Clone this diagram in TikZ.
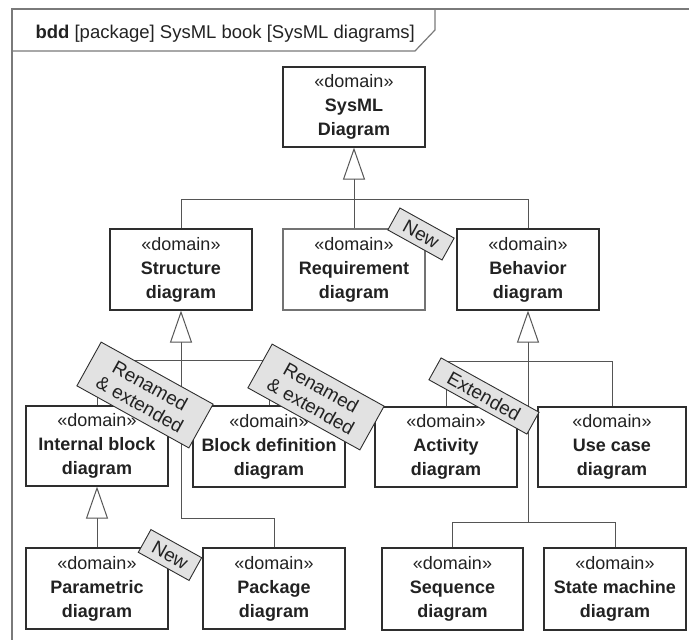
\documentclass[tikz,border=0pt]{standalone}
\usepackage{fontspec}
\setmainfont{Liberation Sans}
\usetikzlibrary{arrows.meta}
\definecolor{frameline}{HTML}{7A7A7A}
\definecolor{boxline}{HTML}{2E2E2E}
\definecolor{connline}{HTML}{555555}
\definecolor{tagfill}{HTML}{E2E2E2}
\definecolor{inktext}{HTML}{222222}
\begin{document}
\begin{tikzpicture}[x=1pt,y=-1pt,
  box/.style={draw=boxline, line width=1.2pt, fill=white, minimum width=142pt,
    minimum height=81pt, inner sep=0pt, align=center, text=inktext,
    font=\fontsize{18}{24}\selectfont},
  conn/.style={draw=connline, line width=1pt},
  gen/.style={conn, -{Triangle[open, length=32pt, width=22pt, fill=white]}},
  tag/.style={draw=boxline, line width=0.9pt, fill=tagfill, rotate=-29,
    inner sep=0pt, align=center, text=inktext, font=\fontsize{19}{21}\selectfont}]
\useasboundingbox (0,0) rectangle (689,640);

% frame with title tab
\draw[frameline, line width=1.2pt] (12,645) -- (12,9) -- (689,9);
\draw[frameline, line width=1.2pt] (12,51) -- (415,51) -- (435,30) -- (435,9);
\node[anchor=base west, font=\fontsize{18.5}{22}\selectfont, text=inktext] (title) at (32,38)
  {\textbf{bdd} [package] SysML book [SysML diagrams]};

% junction points of the generalization trees
\coordinate (j1) at (354,199);
\coordinate (j2) at (181,360);
\coordinate (j3) at (181,518);
\coordinate (j4) at (528,361);
\coordinate (j5) at (528,522);

% blocks
\node[box, minimum height=80pt] (sysml) at (354,107) {«domain»\\\textbf{SysML}\\\textbf{Diagram}};
\node[box] (struct) at (181,269.5) {«domain»\\\textbf{Structure}\\\textbf{diagram}};
\node[box, draw=black!55] (req) at (354,269.5) {«domain»\\\textbf{Requirement}\\\textbf{diagram}};
\node[box] (behav) at (528,269.5) {«domain»\\\textbf{Behavior}\\\textbf{diagram}};
\node[box, minimum height=80pt] (ibd) at (97,446) {«domain»\\\textbf{Internal block}\\\textbf{diagram}};
\node[box, minimum width=152pt] (bdd) at (269,446.5) {«domain»\\\textbf{Block definition}\\\textbf{diagram}};
\node[box, minimum height=80pt] (act) at (446,447) {«domain»\\\textbf{Activity}\\\textbf{diagram}};
\node[box, minimum width=148pt, minimum height=80pt] (uc) at (612,447) {«domain»\\\textbf{Use case}\\\textbf{diagram}};
\node[box] (param) at (97,588.5) {«domain»\\\textbf{Parametric}\\\textbf{diagram}};
\node[box] (pkg) at (274,588.5) {«domain»\\\textbf{Package}\\\textbf{diagram}};
\node[box, minimum width=141pt, minimum height=82pt] (seq) at (452.5,589) {«domain»\\\textbf{Sequence}\\\textbf{diagram}};
\node[box, minimum height=82pt] (sm) at (615,589) {«domain»\\\textbf{State machine}\\\textbf{diagram}};

% generalizations
\draw[conn] (struct.north) |- (behav.north |- j1) -- (behav.north);
\draw[conn] (req.north) -- (j1);
\draw[gen] (j1) -- (sysml.south);

\draw[conn] (ibd.north) |- (bdd.north |- j2) -- (bdd.north);
\draw[gen] (j2) -- (struct.south);
\draw[conn] (j2) -- (j3) -| (pkg.north);

\draw[conn] (act.north) |- (uc.north |- j4) -- (uc.north);
\draw[gen] (j4) -- (behav.south);
\draw[conn] (j4) -- (j5);
\draw[conn] (seq.north) |- (sm.north |- j5) -- (sm.north);

\draw[gen] (param.north) -- (ibd.south);

% change tags
\node[tag, minimum width=62pt, minimum height=25pt] (newreq) at (421,234) {New};
\node[tag, minimum width=128pt, minimum height=50pt] (ren1) at (145,395) {Renamed\\\& extended};
\node[tag, minimum width=128pt, minimum height=50pt] (ren2) at (316,397) {Renamed\\\& extended};
\node[tag, minimum width=112pt, minimum height=25pt] (ext) at (484,396) {Extended};
\node[tag, minimum width=58pt, minimum height=26pt] (newpar) at (170,555) {New};
\end{tikzpicture}
\end{document}
